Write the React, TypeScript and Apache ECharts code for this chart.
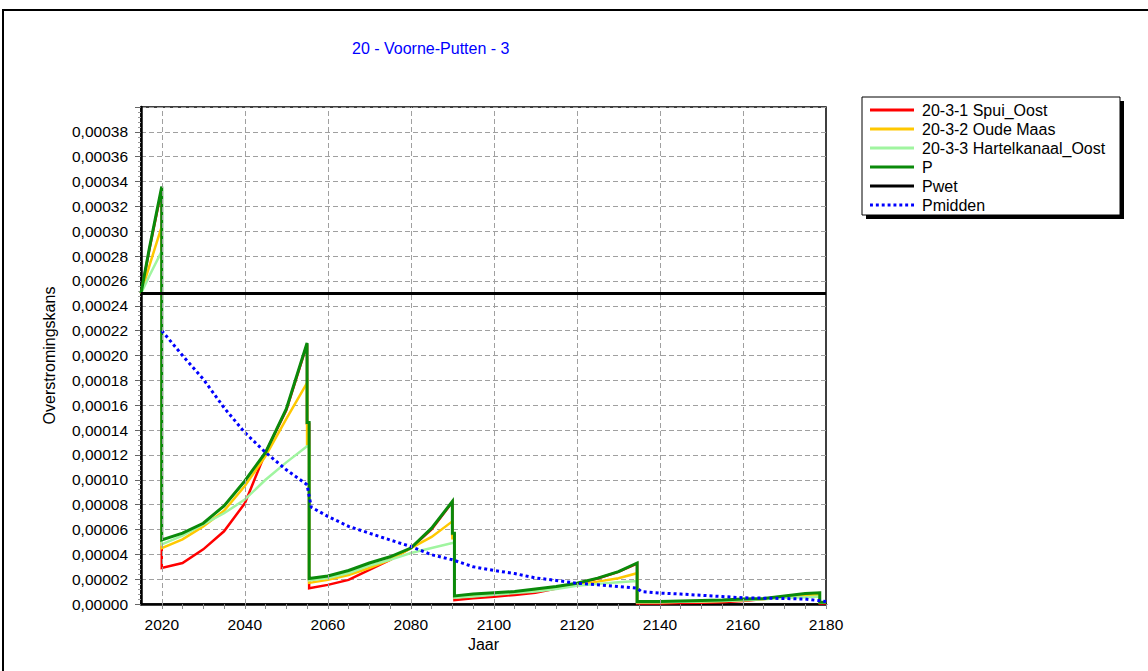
import React, { useEffect, useRef } from "react";
import * as echarts from "echarts";

// values are in units of 1e-5 (overstromingskans per jaar)
const UNIT = 1e-5;

const stepYears = [
  2015, 2017, 2020, 2020, 2025, 2030, 2035, 2040, 2045, 2050,
  2055, 2055, 2055.5, 2055.5, 2060, 2065, 2070, 2075, 2080, 2085,
  2090, 2090, 2090.5, 2090.5, 2095, 2100, 2105, 2110, 2115, 2120,
  2125, 2130, 2134.5, 2134.5, 2140, 2145, 2150, 2155, 2160, 2165,
  2170, 2175, 2178.5, 2178.5, 2180,
];

const spuiOost = [
  25, 28.5, 33.4, 2.9, 3.3, 4.4, 5.85, 8.1, 12.2, 15.6,
  20.9, 14.5, 14.5, 1.27, 1.54, 1.94, 2.75, 3.56, 4.5, 6.0,
  8.2, 5.6, 5.6, 0.32, 0.46, 0.59, 0.73, 0.91, 1.25, 1.65,
  2.05, 2.58, 3.25, 0.05, 0.05, 0.08, 0.1, 0.15, 0.25, 0.4,
  0.6, 0.8, 0.88, 0.05, 0.05,
];

const oudeMaas = [
  25, 27.2, 30.4, 4.5, 5.2, 6.25, 7.5, 9.5, 11.9, 14.9,
  17.8, 12.7, 12.7, 1.7, 1.94, 2.34, 2.9, 3.56, 4.5, 5.4,
  6.65, 5.3, 5.3, 0.55, 0.65, 0.8, 0.92, 1.1, 1.3, 1.54,
  1.8, 2.08, 2.48, 0.15, 0.15, 0.18, 0.2, 0.25, 0.3, 0.4,
  0.55, 0.65, 0.75, 0.1, 0.1,
];

const hartelkanaalOost = [
  25, 26.4, 28.4, 4.8, 5.5, 6.4, 7.3, 8.4, 10.0, 11.4,
  12.7, 12.7, 12.7, 1.9, 2.1, 2.5, 3.1, 3.55, 4.1, 4.5,
  4.9, 4.9, 4.9, 0.5, 0.6, 0.75, 0.88, 1.0, 1.2, 1.46,
  1.62, 1.75, 1.85, 0.15, 0.15, 0.18, 0.2, 0.25, 0.3, 0.38,
  0.5, 0.55, 0.6, 0.1, 0.1,
];

const pTotal = [
  25, 28.6, 33.6, 5.15, 5.7, 6.5, 7.9, 9.9, 12.2, 15.7,
  21.0, 14.6, 14.6, 2.05, 2.26, 2.7, 3.3, 3.8, 4.5, 6.1,
  8.25, 5.7, 5.7, 0.65, 0.8, 0.9, 1.0, 1.2, 1.4, 1.67,
  2.08, 2.6, 3.3, 0.2, 0.2, 0.24, 0.28, 0.32, 0.4, 0.45,
  0.65, 0.85, 0.9, 0.15, 0.15,
];

const pwetYears = [2015, 2180];
const pwetValues = [25, 25];

const pmiddenYears = [
  2020, 2025, 2030, 2035, 2040, 2045, 2050, 2055, 2056, 2060,
  2065, 2070, 2075, 2080, 2085, 2090, 2095, 2100, 2105, 2110,
  2115, 2120, 2125, 2130, 2134.5, 2135.5, 2140, 2145, 2150, 2155,
  2160, 2165, 2170, 2175, 2180,
];
const pmiddenValues = [
  22, 20, 18.1, 15.8, 13.8, 12.2, 10.8, 9.6, 7.8, 7.05,
  6.25, 5.7, 5.15, 4.63, 3.96, 3.56, 3.0, 2.7, 2.45, 2.1,
  1.9, 1.67, 1.55, 1.4, 1.27, 1.0, 0.88, 0.8, 0.7, 0.6,
  0.5, 0.47, 0.44, 0.4, 0.2,
];

const xGridYears = [2020, 2040, 2060, 2080, 2100, 2120, 2140, 2160];

const seriesNames = [
  "20-3-1 Spui_Oost",
  "20-3-2 Oude Maas",
  "20-3-3 Hartelkanaal_Oost",
  "P",
  "Pwet",
  "Pmidden",
];

const FONT = "'Liberation Sans', Arial, sans-serif";

const SOLID_ICON = "path://M0,0h45v3h-45z";
const DOTTED_ICON =
  "path://M0,0h3v3h-3z M6,0h3v3h-3z M12,0h3v3h-3z M18,0h3v3h-3z M24,0h3v3h-3z M30,0h3v3h-3z M36,0h3v3h-3z M42,0h3v3h-3z";

const pairs = (xs: number[], ys: number[]) => xs.map((x, i) => [x, ys[i] * UNIT]);

export default function App() {
  const ref = useRef<HTMLDivElement>(null);

  useEffect(() => {
    document.body.style.margin = "0";
    if (!ref.current) return;
    const chart = echarts.init(ref.current, null, { renderer: "svg" });

    const lineSeries = (name: string, data: number[][], color: string, width: number, extra: any = {}) => ({
      name,
      type: "line",
      data,
      symbol: "none",
      showSymbol: false,
      lineStyle: { color, width, cap: "butt", join: "miter" },
      itemStyle: { color },
      ...extra,
    });

    const option: any = {
      animation: false,
      backgroundColor: "#ffffff",
      title: {
        text: "20 - Voorne-Putten - 3",
        left: 352,
        top: 40,
        padding: 0,
        textStyle: { color: "#0000ff", fontSize: 16, fontWeight: "normal", fontFamily: FONT },
      },
      graphic: [
        {
          type: "rect",
          z: -10,
          silent: true,
          shape: { x: 3, y: 10, width: 1160, height: 680 },
          style: { fill: "none", stroke: "#000", lineWidth: 2 },
        },
        {
          type: "rect",
          z: 1,
          silent: true,
          shape: { x: 866, y: 101, width: 258, height: 118 },
          style: { fill: "#000" },
        },
        {
          type: "rect",
          z: 2,
          silent: true,
          shape: { x: 862, y: 97, width: 258, height: 118 },
          style: { fill: "#fff", stroke: "#000", lineWidth: 1 },
        },
      ],
      legend: {
        data: seriesNames.map((n) => ({ name: n, icon: n === "Pmidden" ? DOTTED_ICON : SOLID_ICON })),
        orient: "vertical",
        left: 870,
        top: 100.5,
        padding: 0,
        itemGap: 0,
        itemWidth: 44,
        itemHeight: 3,
        z: 10,
        itemStyle: { borderWidth: 0 },
        lineStyle: { width: 0 },
        textStyle: { fontSize: 16, fontFamily: FONT, color: "#000", lineHeight: 19, padding: [0, 0, 0, 3] },
      },
      grid: {
        left: 141,
        right: 322,
        top: 107,
        bottom: 67,
        show: true,
        borderColor: "#000",
        borderWidth: 1.5,
        backgroundColor: "transparent",
      },
      xAxis: {
        type: "value",
        min: 2015,
        max: 2180,
        interval: 5,
        name: "Jaar",
        nameLocation: "middle",
        nameGap: 30,
        nameTextStyle: { fontSize: 16, fontFamily: FONT, color: "#000" },
        axisLine: { show: true, lineStyle: { color: "#000", width: 2.5 } },
        axisTick: { show: true, length: 5, lineStyle: { color: "#888", width: 1 } },
        axisLabel: {
          margin: 12,
          fontSize: 15.5,
          fontFamily: FONT,
          color: "#000",
          showMinLabel: false,
          formatter: (v: number) => (xGridYears.includes(v) || v === 2180 ? String(v) : ""),
        },
        splitLine: { show: false },
      },
      yAxis: {
        type: "value",
        min: 0,
        max: 0.0004,
        interval: 0.00002,
        name: "Overstromingskans",
        nameLocation: "middle",
        nameGap: 84,
        nameTextStyle: { fontSize: 16, fontFamily: FONT, color: "#000" },
        axisLine: { show: true, lineStyle: { color: "#000", width: 2.5 } },
        axisTick: { show: true, length: 6, lineStyle: { color: "#666", width: 1 } },
        minorTick: { show: true, splitNumber: 5, length: 3, lineStyle: { color: "#999", width: 1 } },
        axisLabel: {
          margin: 13,
          fontSize: 15.5,
          fontFamily: FONT,
          color: "#000",
          showMaxLabel: false,
          formatter: (v: number) => v.toFixed(5).replace(".", ","),
        },
        splitLine: { show: true, lineStyle: { color: "#a0a0a0", width: 1, type: [5, 3] } },
      },
      series: [
        {
          name: "grid",
          type: "line",
          data: [[2015, 0]],
          symbol: "none",
          silent: true,
          lineStyle: { width: 0, opacity: 0 },
          markLine: {
            silent: true,
            symbol: "none",
            label: { show: false },
            lineStyle: { color: "#a0a0a0", width: 1, type: [5, 3] },
            data: xGridYears.map((y) => ({ xAxis: y })),
          },
        },
        lineSeries(seriesNames[0], pairs(stepYears, spuiOost), "#ff0000", 2.5),
        lineSeries(seriesNames[1], pairs(stepYears, oudeMaas), "#ffc800", 2.5),
        lineSeries(seriesNames[2], pairs(stepYears, hartelkanaalOost), "#a0f5a0", 2.5),
        lineSeries(seriesNames[3], pairs(stepYears, pTotal), "#0a8a0a", 3),
        lineSeries(seriesNames[4], pairs(pwetYears, pwetValues), "#000000", 3),
        lineSeries(seriesNames[5], pairs(pmiddenYears, pmiddenValues), "#0000ff", 3, {
          lineStyle: { color: "#0000ff", width: 3, type: [3, 3], cap: "butt" },
        }),
      ],
    };

    chart.setOption(option);
    return () => chart.dispose();
  }, []);

  return <div ref={ref} style={{ width: 1148, height: 671 }} />;
}
